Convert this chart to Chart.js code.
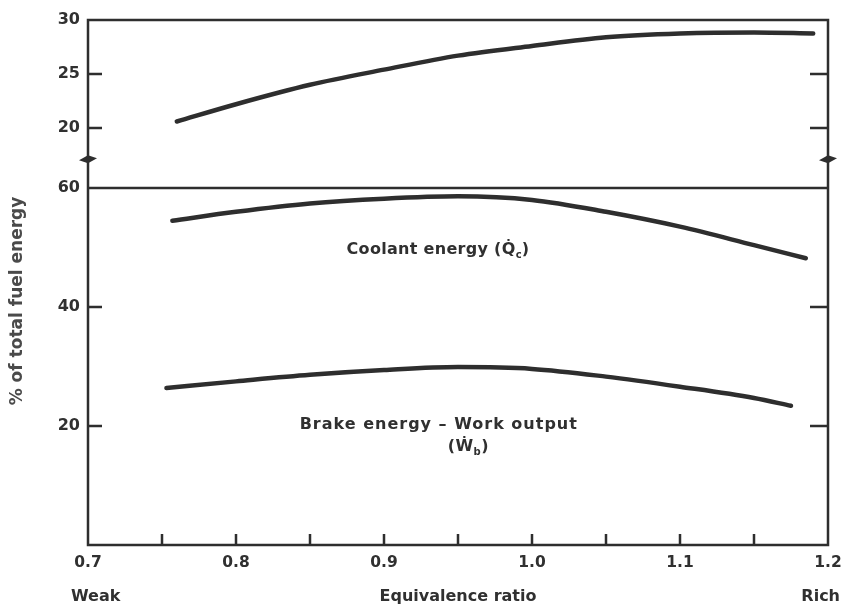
<!DOCTYPE html>
<html>
<head>
<meta charset="utf-8">
<script src="https://cdn.jsdelivr.net/npm/chart.js@4/dist/chart.umd.min.js"></script>
<style>
  html, body { margin: 0; padding: 0; background: #ffffff; }
  #wrap { width: 841px; height: 607px; position: relative; }
</style>
</head>
<body>
<div id="wrap"><canvas id="c" width="841" height="607"></canvas></div>
<script>
// ---- data ----
const xTickLabels = [0.7, 0.8, 0.9, 1.0, 1.1, 1.2];
const xMinorTicks = [0.75, 0.8, 0.85, 0.9, 0.95, 1.0, 1.05, 1.1, 1.15];
const topTickLabels = [20, 25, 30];
const bottomTickLabels = [20, 40, 60];

// upper panel curve (unlabelled in the figure)
const upperX = [0.76, 0.8, 0.85, 0.9, 0.95, 1.0, 1.05, 1.1, 1.15, 1.19];
const upperY = [20.6, 22.2, 24.0, 25.4, 26.7, 27.6, 28.4, 28.75, 28.85, 28.75];

// coolant energy
const coolantX = [0.757, 0.8, 0.85, 0.9, 0.95, 1.0, 1.05, 1.1, 1.15, 1.185];
const coolantY = [54.5, 56.0, 57.4, 58.2, 58.6, 58.0, 56.0, 53.5, 50.4, 48.2];

// brake energy - work output
const brakeX = [0.753, 0.8, 0.85, 0.9, 0.95, 1.0, 1.05, 1.1, 1.15, 1.175];
const brakeY = [26.4, 27.5, 28.6, 29.4, 29.9, 29.6, 28.3, 26.6, 24.7, 23.4];

const INK = '#2e2e2e';
const TXT = '#303030';
const FONT = 'DejaVu Sans';

function pts(xs, ys) { return xs.map((x, i) => ({ x: x, y: ys[i] })); }

function lineDs(label, xs, ys, axis) {
  return {
    label: label,
    data: pts(xs, ys),
    yAxisID: axis,
    borderColor: INK,
    borderWidth: 4.5,
    borderCapStyle: 'round',
    borderJoinStyle: 'round',
    pointRadius: 0,
    tension: 0.4,
    cubicInterpolationMode: 'monotone',
    fill: false
  };
}

function drawSubText(ctx, parts, cx, cy, size, spacing) {
  ctx.letterSpacing = spacing + 'px';
  let total = 0;
  const widths = parts.map(p => {
    ctx.font = 'bold ' + (p.sub ? Math.round(size * 0.65) : size) + 'px "' + FONT + '"';
    const w = ctx.measureText(p.t).width;
    total += w;
    return w;
  });
  let x = cx - total / 2;
  ctx.textAlign = 'left';
  ctx.textBaseline = 'middle';
  parts.forEach((p, i) => {
    ctx.font = 'bold ' + (p.sub ? Math.round(size * 0.65) : size) + 'px "' + FONT + '"';
    ctx.fillText(p.t, x, cy + (p.sub ? size * 0.32 : 0));
    x += widths[i];
  });
  ctx.letterSpacing = '0px';
}

const framePlugin = {
  id: 'frame',
  afterDraw(chart) {
    const ctx = chart.ctx;
    const { left, right, bottom } = chart.chartArea;
    const xs = chart.scales.x, yt = chart.scales.yTop, yb = chart.scales.yBot;
    const top = yt.getPixelForValue(30);
    const mid = yb.getPixelForValue(60);
    ctx.save();
    ctx.strokeStyle = INK;
    ctx.lineCap = 'square';
    ctx.lineWidth = 2.5;
    ctx.beginPath();
    ctx.moveTo(left, top); ctx.lineTo(right, top);
    ctx.moveTo(left, mid); ctx.lineTo(right, mid);
    ctx.moveTo(left, top); ctx.lineTo(left, bottom); ctx.lineTo(right, bottom); ctx.lineTo(right, top);
    ctx.stroke();

    // inward tick marks
    ctx.lineWidth = 2.5;
    ctx.lineCap = 'butt';
    ctx.beginPath();
    xMinorTicks.forEach(v => {
      const px = xs.getPixelForValue(v);
      ctx.moveTo(px, bottom); ctx.lineTo(px, bottom - 11);
    });
    [[yt, topTickLabels.filter(v => v < 30)], [yb, bottomTickLabels.filter(v => v < 60)]].forEach(([s, vals]) => {
      vals.forEach(v => {
        const py = s.getPixelForValue(v);
        ctx.moveTo(left, py); ctx.lineTo(left + 14, py);
        ctx.moveTo(right, py); ctx.lineTo(right - 18, py);
      });
    });
    ctx.stroke();

    // axis break marks
    ctx.fillStyle = INK;
    [left, right].forEach(ax => {
      const py = yt.getPixelForValue(17.1);
      ctx.beginPath();
      ctx.moveTo(ax - 9, py + 1);
      ctx.lineTo(ax, py - 4);
      ctx.lineTo(ax + 9, py - 1);
      ctx.lineTo(ax, py + 4);
      ctx.closePath();
      ctx.fill();
    });

    // texts
    ctx.fillStyle = TXT;
    ctx.textBaseline = 'middle';
    ctx.font = 'bold 16px "' + FONT + '"';
    ctx.textAlign = 'left';
    ctx.fillText('Weak', 71, 597);
    ctx.textAlign = 'right';
    ctx.fillText('Rich', 840, 597);
    ctx.textAlign = 'center';
    ctx.fillText('Equivalence ratio', (left + right) / 2, 597);

    ctx.save();
    ctx.fillStyle = '#4a4a4a';
    ctx.font = 'bold 17px "' + FONT + '"';
    ctx.translate(18, 301);
    ctx.rotate(-Math.PI / 2);
    ctx.textAlign = 'center';
    ctx.fillText('% of total fuel energy', 0, 0);
    ctx.restore();

    // curve annotations
    drawSubText(ctx, [{ t: 'Coolant energy (Q\u0307' }, { t: 'c', sub: true }, { t: ')' }],
      xs.getPixelForValue(0.9365), yb.getPixelForValue(49.6), 16, 0.3);
    drawSubText(ctx, [{ t: 'Brake energy \u2013 Work output' }],
      xs.getPixelForValue(0.937), yb.getPixelForValue(20.2), 16, 1);
    drawSubText(ctx, [{ t: '(\u1E86' }, { t: 'b', sub: true }, { t: ')' }],
      xs.getPixelForValue(0.957), yb.getPixelForValue(16.5), 16, 0.5);
    ctx.restore();
  }
};

const yCommon = {
  type: 'linear',
  position: 'left',
  stack: 'left',
  grid: { display: false, drawTicks: false },
  border: { display: false },
  ticks: { color: TXT, padding: 8, font: { family: FONT, weight: 'bold', size: 16 } },
  afterFit: s => { s.width = 88; }
};

new Chart(document.getElementById('c'), {
  type: 'line',
  data: {
    datasets: [
      lineDs('Upper curve', upperX, upperY, 'yTop'),
      lineDs('Coolant energy', coolantX, coolantY, 'yBot'),
      lineDs('Brake energy \u2013 Work output', brakeX, brakeY, 'yBot')
    ]
  },
  options: {
    responsive: false,
    animation: false,
    events: [],
    layout: { padding: { top: 20, right: 13, bottom: 0, left: 0 } },
    plugins: { legend: { display: false }, tooltip: { enabled: false }, title: { display: false } },
    scales: {
      x: {
        type: 'linear',
        min: 0.7,
        max: 1.2,
        grid: { display: false, drawTicks: false },
        border: { display: false },
        afterBuildTicks: s => { s.ticks = xTickLabels.map(v => ({ value: v })); },
        ticks: {
          color: TXT, padding: 9, maxRotation: 0, autoSkip: false,
          font: { family: FONT, weight: 'bold', size: 15.5 },
          callback: v => Number(v).toFixed(1)
        },
        afterFit: s => { s.height = 62; s.paddingRight = 0; s.paddingLeft = 0; }
      },
      yBot: Object.assign({}, yCommon, {
        min: 0, max: 60, stackWeight: 357,
        afterBuildTicks: s => { s.ticks = bottomTickLabels.map(v => ({ value: v })); }
      }),
      yTop: Object.assign({}, yCommon, {
        min: 14.44, max: 30, stackWeight: 168,
        afterBuildTicks: s => { s.ticks = topTickLabels.map(v => ({ value: v })); }
      })
    }
  },
  plugins: [framePlugin]
});
</script>
</body>
</html>
